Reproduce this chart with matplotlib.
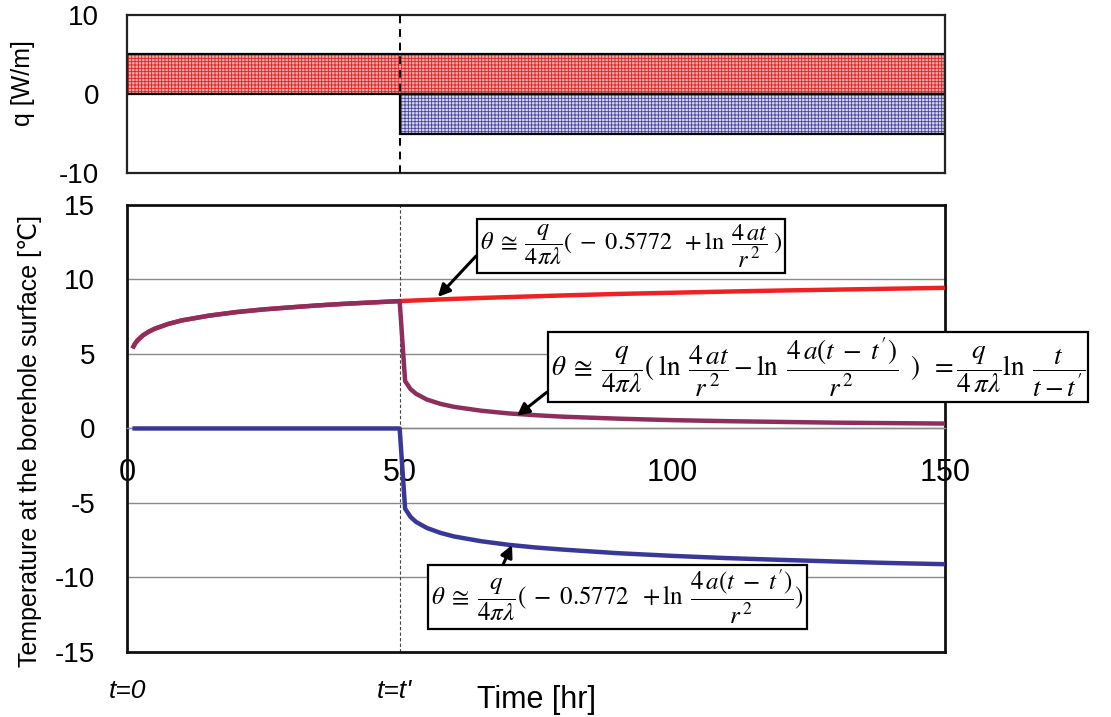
import matplotlib
matplotlib.use("Agg")
import matplotlib.pyplot as plt

plt.rcParams["font.family"] = ["Liberation Sans", "DejaVu Sans"]
plt.rcParams["mathtext.fontset"] = "stix"
plt.rcParams["axes.unicode_minus"] = False
plt.rcParams["hatch.linewidth"] = 0.6

# ---- heat input pulses (top panel) ----
q_start = [0, 50]
q_stop = [150, 150]
q_value = [5, -5]
q_face = ["#f0a8a8", "#d6d6ee"]
q_hatch = ["#e02020", "#44449a"]

t_switch = 50

# ---- borehole surface temperature (bottom panel) ----
# heating period, shared by the continuous-heating and superposed curves
t_on = [1, 1.5, 2, 3, 4, 5, 7.5, 10, 15, 20, 25, 30, 35, 40, 45, 50]
theta_on = [5.38, 5.71, 5.94, 6.27, 6.50, 6.68, 7.01, 7.25, 7.57, 7.81,
            7.99, 8.13, 8.26, 8.37, 8.46, 8.55]

# continuous heating after t'
t_late = [60, 70, 80, 90, 100, 110, 120, 130, 140, 150]
theta_late = [8.70, 8.82, 8.93, 9.03, 9.11, 9.19, 9.26, 9.32, 9.38, 9.44]

# after the heat is switched off at t'
t_off = [51, 52, 53, 55, 57.5, 60, 65, 70, 75, 80, 90, 100, 110, 120, 130, 140, 150]
theta_recovery = [3.18, 2.64, 2.33, 1.94, 1.65, 1.45, 1.19, 1.01, 0.89, 0.79,
                  0.66, 0.56, 0.49, 0.44, 0.39, 0.36, 0.33]
theta_negative = [-5.38, -5.94, -6.27, -6.68, -7.01, -7.25, -7.57, -7.81, -7.99,
                  -8.13, -8.37, -8.55, -8.70, -8.82, -8.93, -9.03, -9.11]

x_ticks = [0, 50, 100, 150]
y_ticks_q = [-10, 0, 10]
y_ticks_t = [-15, -10, -5, 0, 5, 10, 15]

eq_heat = r"$\theta\;\cong\;\dfrac{q}{4\pi\lambda}(\;-\;0.5772\;\;+\ln\;\dfrac{4\,at}{r^{\,2}}\;)$"
eq_super = (r"$\theta\;\cong\;\dfrac{q}{4\pi\lambda}(\;\ln\;\dfrac{4\,at}{r^{\,2}}-\ln\;"
            r"\dfrac{4\,a(t\;-\;t')}{r^{\,2}}\;\;)\;\;=\dfrac{q}{4\,\pi\lambda}\ln\;\dfrac{t}{t-t'}$")
eq_neg = r"$\theta\;\cong\;\dfrac{q}{4\pi\lambda}(\;-\;0.5772\;\;+\ln\;\dfrac{4\,a(t\;-\;t')}{r^{\,2}})$"

RED = "#ee2222"
PURPLE = "#8e2e5c"
BLUE = "#383898"

fig = plt.figure(figsize=(11.11, 7.17), dpi=100)
ax_q = fig.add_axes([0.1143, 0.7587, 0.7363, 0.2204])
ax_t = fig.add_axes([0.1143, 0.0907, 0.7363, 0.6234])

# ---------------- top panel ----------------
for s, e, q, fc, hc in zip(q_start, q_stop, q_value, q_face, q_hatch):
    ax_q.bar(s, q, width=e - s, align="edge", color=fc, edgecolor=hc,
             hatch="+++++", linewidth=0, zorder=1)
    ax_q.bar(s, q, width=e - s, align="edge", fill=False, edgecolor="black",
             linewidth=1.6, zorder=2)
ax_q.axvline(t_switch, color="black", lw=1.4, ls=(0, (4, 3)), zorder=3)
ax_q.set_xlim(0, 150)
ax_q.set_ylim(-10, 10)
ax_q.set_xticks([])
ax_q.set_yticks(y_ticks_q)
ax_q.tick_params(axis="y", length=0, pad=20, labelsize=20)
for sp in ax_q.spines.values():
    sp.set_linewidth(1.6)
    sp.set_color("#222222")
ax_q.set_ylabel("q [W/m]", fontsize=18)
ax_q.yaxis.set_label_coords(-0.1125, 0.57)

# ---------------- bottom panel ----------------
ax_t.plot(t_on + t_late, theta_on + theta_late, color=RED, lw=3.2, zorder=3,
          solid_capstyle="butt")
ax_t.plot(t_on + t_off, theta_on + theta_recovery, color=PURPLE, lw=3.2, zorder=4,
          solid_capstyle="butt")
ax_t.plot(t_on + t_off, [0] * len(t_on) + theta_negative, color=BLUE, lw=3.2,
          zorder=4, solid_capstyle="butt")
ax_t.axvline(t_switch, color="#444444", lw=0.8, ls=(0, (3, 2)), zorder=2)

ax_t.set_xlim(0, 150)
ax_t.set_ylim(-15, 15)
ax_t.set_xticks(x_ticks)
ax_t.set_yticks(y_ticks_t)
ax_t.yaxis.grid(True, color="#8a8a8a", lw=1.0, zorder=0)
ax_t.set_axisbelow(True)
ax_t.spines["bottom"].set_position(("data", 0))
ax_t.spines["bottom"].set_color("#8a8a8a")
ax_t.spines["bottom"].set_linewidth(1.0)
for k in ("left", "right", "top"):
    ax_t.spines[k].set_linewidth(2.0)
    ax_t.spines[k].set_color("#111111")
ax_t.axhline(-15, color="#111111", lw=2.0, clip_on=False, zorder=5)
ax_t.tick_params(axis="x", length=0, pad=21, labelsize=22)
ax_t.tick_params(axis="y", length=0, pad=23, labelsize=20)

ax_t.set_ylabel("Temperature at the borehole surface [\u2103]", fontsize=18)
ax_t.yaxis.set_label_coords(-0.104, 0.472)
ax_t.set_xlabel("Time [hr]", fontsize=22)
ax_t.xaxis.set_label_coords(0.5, -0.075)

ax_t.text(0, -17.6, "t=0", fontsize=19, style="italic", ha="center", va="center",
          clip_on=False)
ax_t.text(49, -17.6, "t=t'", fontsize=19, style="italic", ha="center", va="center",
          clip_on=False)

box = dict(boxstyle="square,pad=0.12", facecolor="white", edgecolor="black", lw=1.6)


def arrow(rel):
    return dict(arrowstyle="-|>", color="black", lw=2.2, mutation_scale=18,
                shrinkA=0, shrinkB=0, relpos=rel)


ax_t.annotate(eq_heat, xy=(57.0, 8.83), xytext=(92.4, 12.25), fontsize=17.5,
              ha="center", va="center", bbox=box, arrowprops=arrow((0.0, 0.37)),
              zorder=6, annotation_clip=False)

ax_t.annotate(eq_super, xy=(71.5, 0.85), xytext=(126.7, 4.13), fontsize=19.5,
              ha="center", va="center", bbox=box, arrowprops=arrow((0.0, 0.15)),
              zorder=6, annotation_clip=False)

ax_t.annotate(eq_neg, xy=(70.6, -7.82), xytext=(89.9, -11.3), fontsize=18,
              ha="center", va="center", bbox=box, arrowprops=arrow((0.19, 1.0)),
              zorder=6, annotation_clip=False)

fig.savefig("out.png", dpi=100)
